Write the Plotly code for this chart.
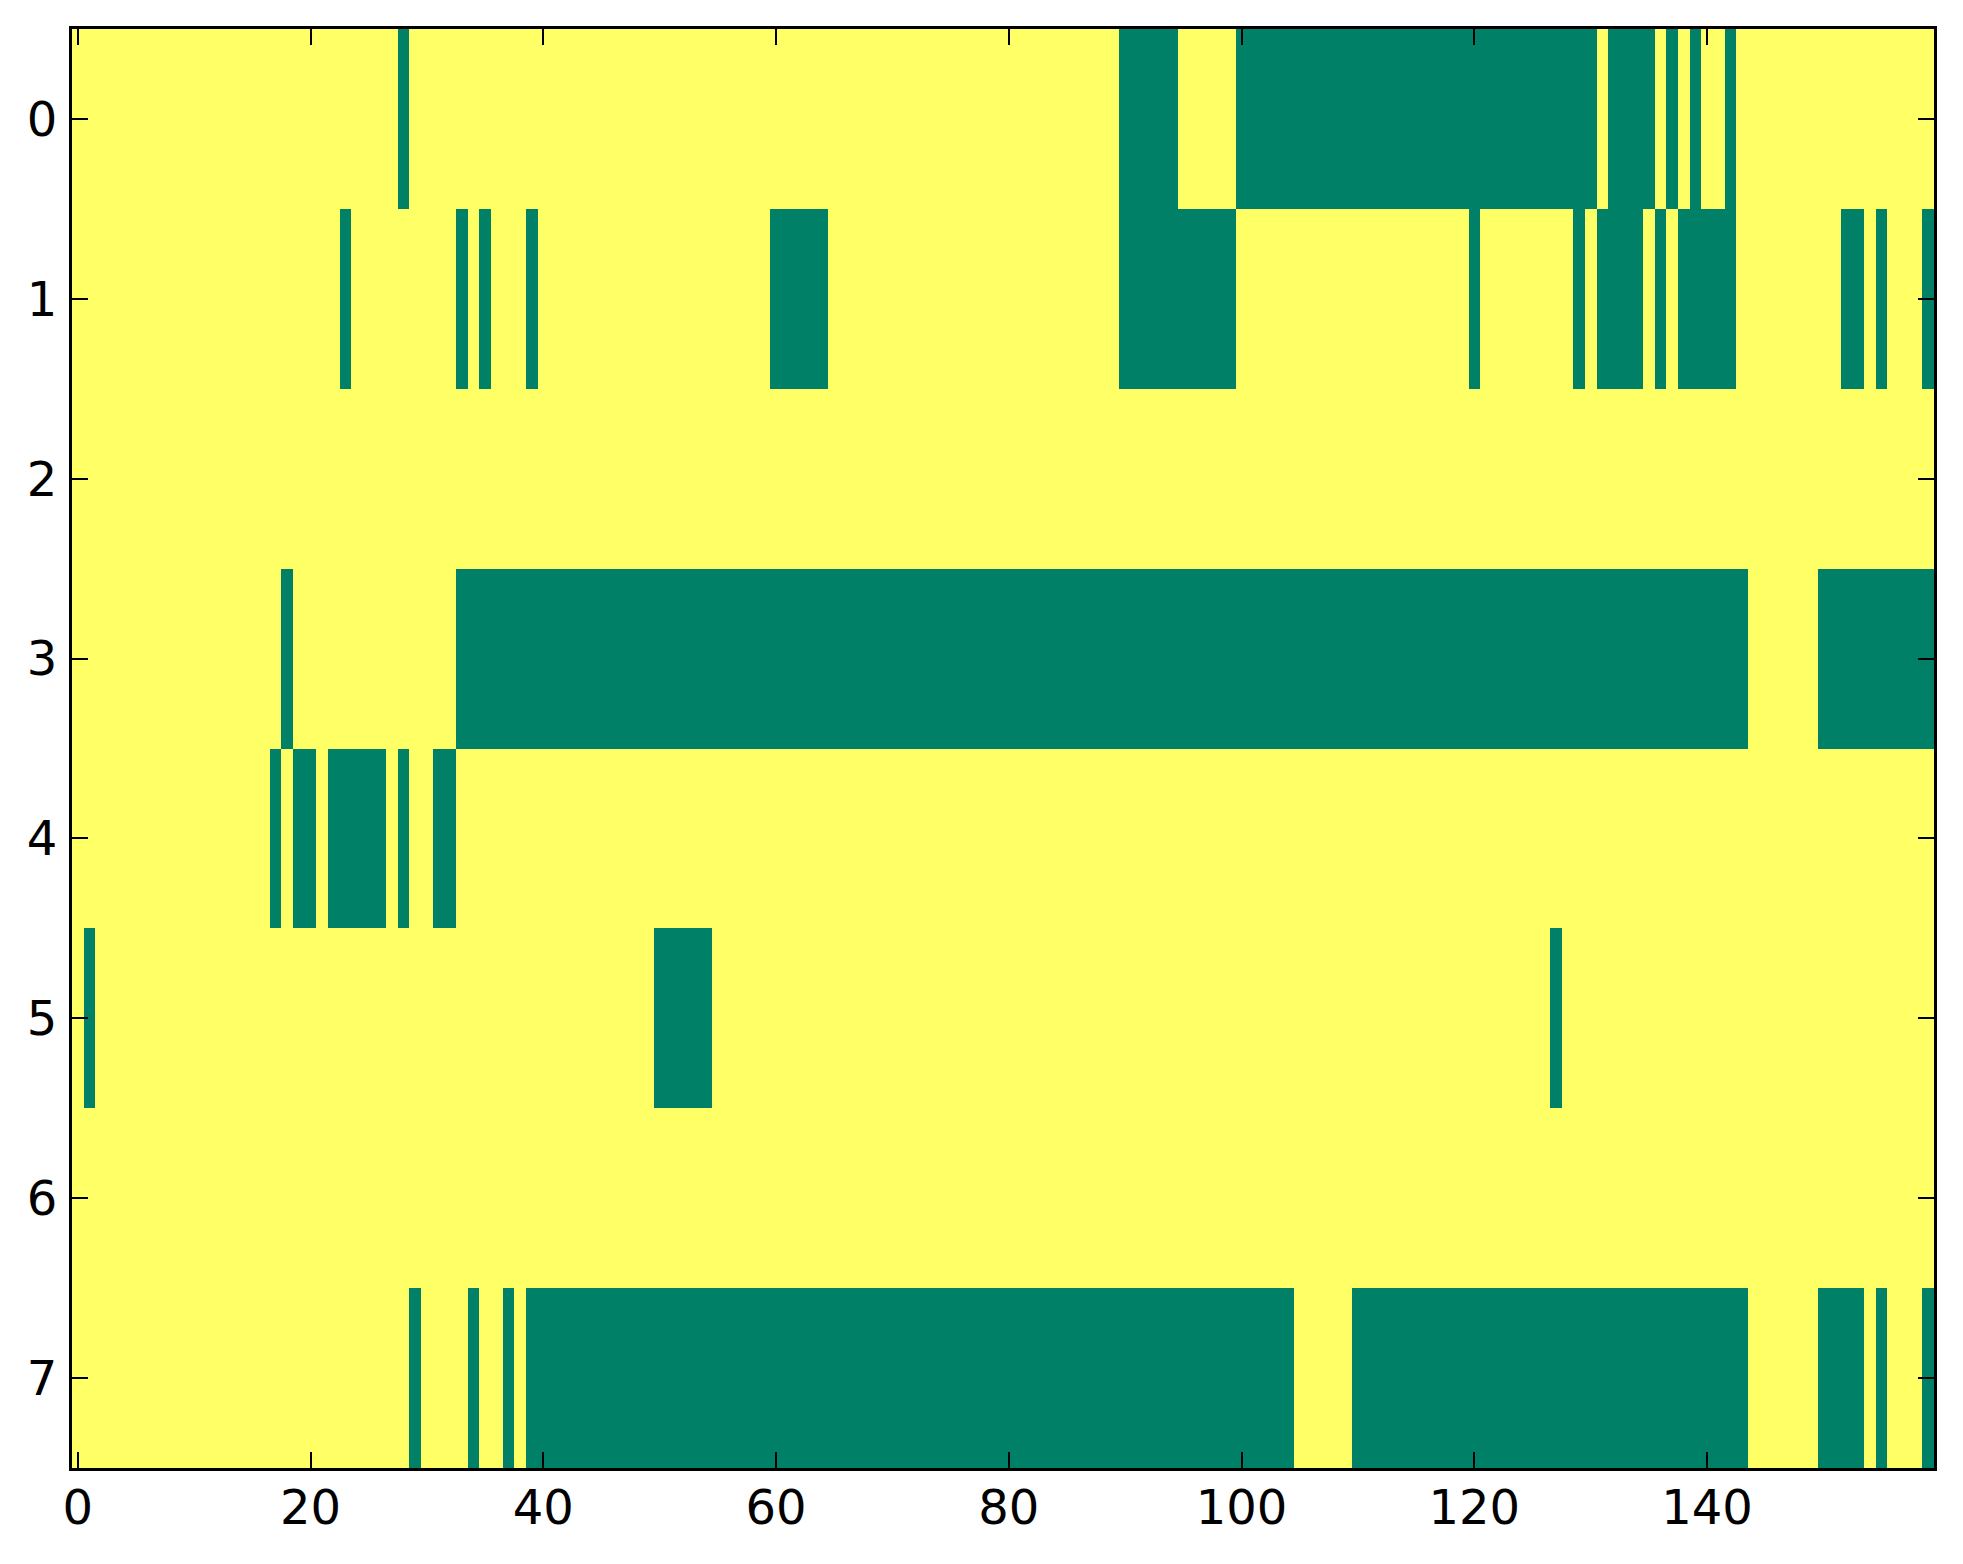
import numpy as np
import plotly.graph_objects as go

# Binary raster, 8 rows x 160 columns; '1' = green (event), '0' = yellow.
# Written in groups of 10 columns for readability.
row_0 = "0000000000 0000000000 0000000010 0000000000 0000000000 0000000000 0000000000 0000000000 0000000000 1111100000 1111111111 1111111111 1111111111 1011110101 0010000000 0000000000"
row_1 = "0000000000 0000000000 0001000000 0001010001 0000000000 0000000000 1111100000 0000000000 0000000000 1111111111 0000000000 0000000000 1000000001 0111101011 1110000000 0011010001"
row_2 = "0000000000 0000000000 0000000000 0000000000 0000000000 0000000000 0000000000 0000000000 0000000000 0000000000 0000000000 0000000000 0000000000 0000000000 0000000000 0000000000"
row_3 = "0000000000 0000000010 0000000000 0001111111 1111111111 1111111111 1111111111 1111111111 1111111111 1111111111 1111111111 1111111111 1111111111 1111111111 1111000000 1111111111"
row_4 = "0000000000 0000000101 1011111010 0110000000 0000000000 0000000000 0000000000 0000000000 0000000000 0000000000 0000000000 0000000000 0000000000 0000000000 0000000000 0000000000"
row_5 = "0100000000 0000000000 0000000000 0000000000 0000000000 1111100000 0000000000 0000000000 0000000000 0000000000 0000000000 0000000000 0000000100 0000000000 0000000000 0000000000"
row_6 = "0000000000 0000000000 0000000000 0000000000 0000000000 0000000000 0000000000 0000000000 0000000000 0000000000 0000000000 0000000000 0000000000 0000000000 0000000000 0000000000"
row_7 = "0000000000 0000000000 0000000001 0000100101 1111111111 1111111111 1111111111 1111111111 1111111111 1111111111 1111100000 1111111111 1111111111 1111111111 1111000000 1111010001"

rows = [row_0, row_1, row_2, row_3, row_4, row_5, row_6, row_7]
x_ticks = [0, 20, 40, 60, 80, 100, 120, 140]
y_ticks = [0, 1, 2, 3, 4, 5, 6, 7]

z = np.array([[int(ch) for ch in r.replace(" ", "")] for r in rows])
n_rows, n_cols = z.shape
xs = list(range(n_cols))
ys = list(range(n_rows))

YELLOW = "rgb(255,255,102)"
GREEN = "rgb(0,128,102)"

fig = go.Figure(
    go.Heatmap(
        z=z, x=xs, y=ys,
        colorscale=[[0, YELLOW], [1, GREEN]],
        zmin=0, zmax=1, showscale=False, zsmooth=False,
        hoverinfo="skip",
    )
)

axis_common = dict(
    showline=True, linecolor="black", linewidth=3, mirror="allticks",
    ticks="inside", ticklen=16, tickwidth=2, tickcolor="black",
    showgrid=False, zeroline=False,
    tickfont=dict(family="DejaVu Sans", size=48, color="black"),
)

fig.update_xaxes(range=[-0.5, n_cols - 0.5], tickvals=x_ticks,
                 ticktext=[str(v) for v in x_ticks], ticklabelstandoff=-5, **axis_common)
fig.update_yaxes(range=[n_rows - 0.5, -0.5], tickvals=y_ticks,
                 ticktext=[str(v) for v in y_ticks], ticklabelstandoff=2, **axis_common)

# page body has an 8px default margin, so the figure is offset by 8px
fig.update_layout(
    width=1947, height=1548,
    margin=dict(l=64, r=21, t=21, b=88, pad=0),
    paper_bgcolor="white", plot_bgcolor="white",
)

fig.write_html("out.html")
